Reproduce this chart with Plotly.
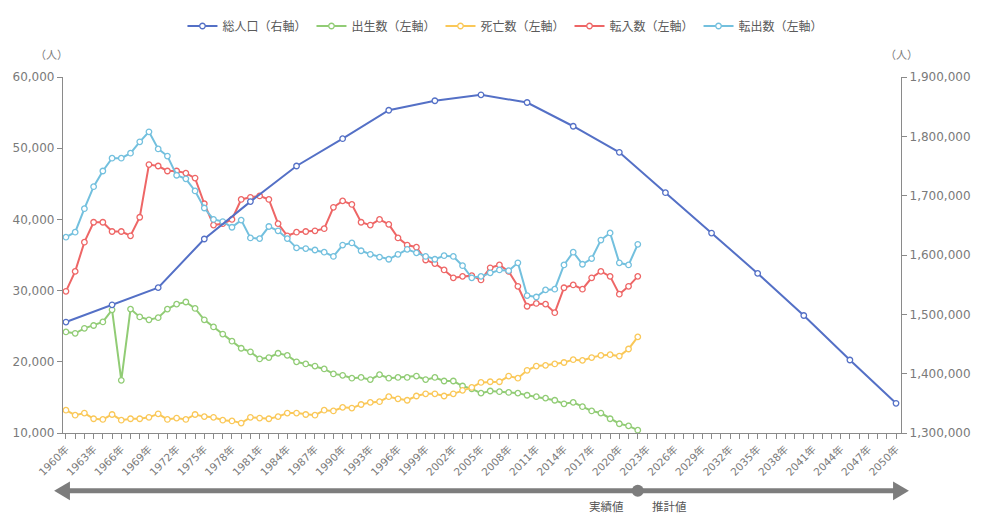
import plotly.graph_objects as go

# ---- data -------------------------------------------------------------
annual_years = list(range(1960, 2023))

births = [
    24200, 24000, 24700, 25100, 25600, 27300, 17400, 27400, 26300, 25900,
    26200, 27400, 28100, 28400, 27500, 25900, 24900, 23900, 22900, 21900,
    21400, 20400, 20600, 21200, 20900, 20000, 19700, 19400, 19000, 18300,
    18100, 17700, 17800, 17500, 18200, 17700, 17800, 17800, 18000, 17500,
    17800, 17300, 17300, 16600, 16200, 15600, 15900, 15800, 15700, 15600,
    15300, 15100, 14900, 14600, 14100, 14300, 13700, 13100, 12800, 12000,
    11300, 11000, 10400,
]

deaths = [
    13200, 12500, 12800, 12000, 11900, 12600, 11800, 12000, 12000, 12200,
    12700, 11900, 12100, 11900, 12600, 12300, 12200, 11800, 11700, 11400,
    12200, 12100, 12000, 12300, 12800, 12800, 12600, 12500, 13200, 13100,
    13600, 13500, 14000, 14300, 14400, 15100, 14800, 14600, 15200, 15500,
    15500, 15200, 15500, 16000, 16400, 17100, 17200, 17200, 18000, 17700,
    18800, 19400, 19500, 19700, 19900, 20300, 20200, 20600, 20900, 21000,
    20800, 21800, 23500,
]

moved_in = [
    29900, 32700, 36800, 39600, 39600, 38300, 38300, 37700, 40300, 47700,
    47500, 46800, 46800, 46500, 45800, 42200, 39200, 39400, 40000, 42800,
    43100, 43300, 42800, 39400, 37700, 38200, 38300, 38400, 38700, 41700,
    42600, 42100, 39600, 39200, 40000, 39300, 37400, 36400, 36100, 34300,
    33800, 32900, 31800, 32000, 32100, 31500, 33200, 33600, 32700, 30600,
    27800, 28200, 28100, 26900, 30400, 30800, 30200, 31800, 32700, 32000,
    29500, 30600, 32000,
]

moved_out = [
    37500, 38200, 41500, 44600, 46800, 48600, 48600, 49300, 50900, 52300,
    49900, 48900, 46200, 45700, 44000, 41600, 40000, 39700, 38900, 39900,
    37400, 37300, 39000, 38400, 37300, 36000, 35900, 35700, 35400, 34800,
    36400, 36700, 35600, 35100, 34700, 34400, 35100, 35800, 35300, 34800,
    34400, 34900, 34800, 33500, 31800, 32000, 32500, 32900, 32800, 33900,
    29300, 29100, 30100, 30200, 33600, 35400, 33700, 34500, 37100, 38100,
    33900, 33600, 36500,
]

census_years = list(range(1960, 2051, 5))
total_population = [
    1487000, 1516000, 1545000, 1627000, 1690000, 1750000, 1796000,
    1844000, 1860000, 1870000, 1857000, 1817000, 1773000, 1705000,
    1637000, 1569000, 1498000, 1423000, 1350000,
]

# ---- styling ------------------------------------------------------------
W, H = 983, 516
M_L, M_R, M_T, M_B = 63, 73, 70, 83
PLOT_W = W - M_L - M_R
PLOT_H = H - M_T - M_B
X_RANGE = [1959.68, 2050.54]

AXIS_GREY = "#8a8a8a"
LABEL_GREY = "#7a7a7a"
ARROW_GREY = "#7d7d7d"
FONT = "DejaVu Sans, Noto Sans CJK JP, sans-serif"
CJK = "Noto Sans CJK JP, sans-serif"


def px_x(p):
    return (p - M_L) / PLOT_W


def px_y(p):
    return (M_T + PLOT_H - p) / PLOT_H


def series(x, y, name, color, axis="y"):
    return go.Scatter(
        x=x, y=y, name=name, yaxis=axis, mode="lines+markers",
        line=dict(color=color, width=2),
        marker=dict(symbol="circle", size=5.5, color="white",
                    line=dict(color=color, width=1.3)),
    )


fig = go.Figure()
fig.add_trace(series(census_years, total_population, "総人口（右軸）", "#5470c6", "y2"))
fig.add_trace(series(annual_years, births, "出生数（左軸）", "#91cc75"))
fig.add_trace(series(annual_years, deaths, "死亡数（左軸）", "#fac858"))
fig.add_trace(series(annual_years, moved_in, "転入数（左軸）", "#ee6666"))
fig.add_trace(series(annual_years, moved_out, "転出数（左軸）", "#73c0de"))

tick_common = dict(
    showgrid=False, zeroline=False, showline=True, linecolor=AXIS_GREY,
    linewidth=1.2, ticks="outside", ticklen=5, tickcolor=AXIS_GREY,
)

fig.update_layout(
    width=W, height=H,
    margin=dict(l=M_L, r=M_R, t=M_T, b=M_B),
    paper_bgcolor="white", plot_bgcolor="white",
    font=dict(family=FONT, color=LABEL_GREY),
    showlegend=True,
    legend=dict(
        orientation="h", x=0.528, xanchor="center", y=px_y(18), yanchor="middle",
        font=dict(family=CJK, size=12, color="#5a5a5a"),
        itemwidth=30, bgcolor="rgba(0,0,0,0)",
    ),
    xaxis=dict(
        range=X_RANGE, tickmode="linear", tick0=1960, dtick=3,
        tickformat="d", ticksuffix="年", tickangle=-45,
        tickfont=dict(family=FONT, size=10.5, color=LABEL_GREY),
        minor=dict(tick0=1960, dtick=1, ticks="outside", ticklen=5,
                   tickcolor=AXIS_GREY),
        **tick_common,
    ),
    yaxis=dict(
        range=[10000, 60000], tickmode="linear", tick0=10000, dtick=10000,
        tickformat=",", tickfont=dict(size=12, color=LABEL_GREY),
        **tick_common,
    ),
    yaxis2=dict(
        range=[1300000, 1900000], tickmode="linear", tick0=1300000, dtick=100000,
        tickformat=",", overlaying="y", side="right",
        tickfont=dict(size=12, color=LABEL_GREY),
        **tick_common,
    ),
)

# axis unit labels
for xp in (px_x(51), px_x(911)):
    fig.add_annotation(
        x=xp, y=px_y(47), xref="paper", yref="paper", text="（人）",
        showarrow=False, xanchor="center", yanchor="middle",
        font=dict(family=CJK, size=11, color=LABEL_GREY),
    )

# timeline arrow under the axis: actual values | projections
ay = px_y(492)
split_x = (annual_years[-1] - X_RANGE[0]) / (X_RANGE[1] - X_RANGE[0])
fig.add_shape(type="line", xref="paper", yref="paper",
              x0=px_x(66), x1=px_x(906), y0=ay, y1=ay,
              line=dict(color=ARROW_GREY, width=5))
left_head = (f"M {px_x(54)},{ay} L {px_x(70)},{px_y(482.5)} "
             f"L {px_x(70)},{px_y(501.5)} Z")
right_head = (f"M {px_x(918)},{ay} L {px_x(902)},{px_y(482.5)} "
              f"L {px_x(902)},{px_y(501.5)} Z")
for p in (left_head, right_head):
    fig.add_shape(type="path", path=p, xref="paper", yref="paper",
                  fillcolor=ARROW_GREY, line=dict(color=ARROW_GREY, width=0))
fig.add_shape(type="circle", xref="paper", yref="paper",
              xsizemode="pixel", ysizemode="pixel",
              xanchor=split_x, yanchor=ay, x0=-6, x1=6, y0=-6, y1=6,
              fillcolor=ARROW_GREY, line=dict(color=ARROW_GREY, width=0))
fig.add_annotation(x=split_x, y=px_y(507), xref="paper", yref="paper",
                   text="実績値", showarrow=False, xanchor="right",
                   yanchor="middle", xshift=-12,
                   font=dict(family=CJK, size=11.5, color="#555555"))
fig.add_annotation(x=split_x, y=px_y(507), xref="paper", yref="paper",
                   text="推計値", showarrow=False, xanchor="left",
                   yanchor="middle", xshift=12,
                   font=dict(family=CJK, size=11.5, color="#555555"))

fig.write_html("out.html")
